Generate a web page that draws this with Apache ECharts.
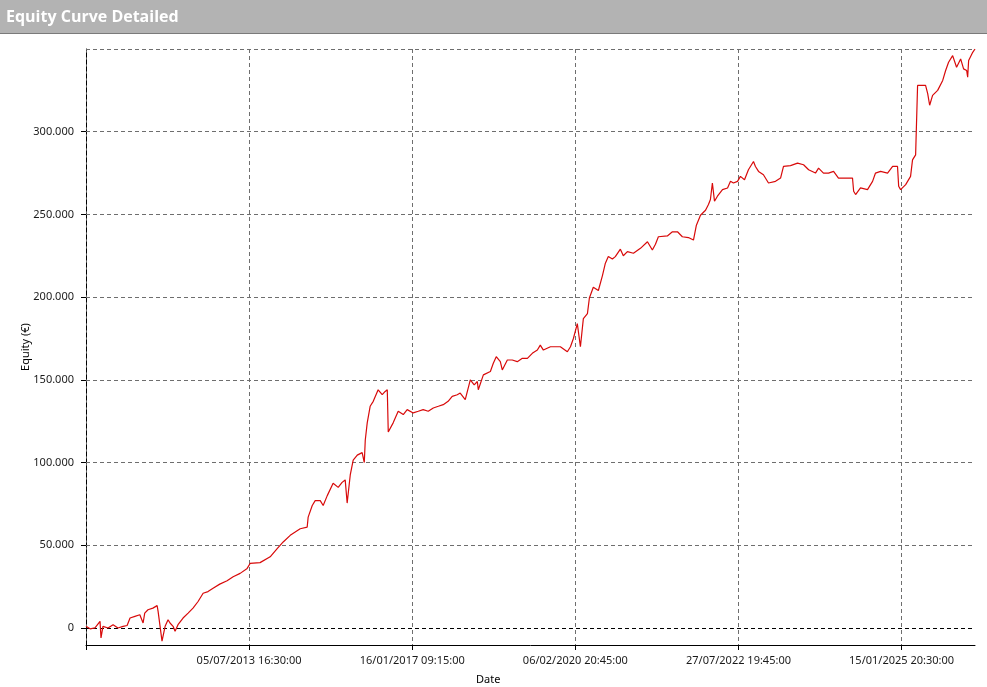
<!DOCTYPE html>
<html>
<head>
<meta charset="utf-8">
<script src="https://cdn.jsdelivr.net/npm/echarts@6/dist/echarts.min.js"></script>
<style>
html,body{margin:0;padding:0;background:#fff;}
#chart{width:987px;height:687px;}
</style>
</head>
<body>
<div id="chart"></div>
<script>
const chartTitle = 'Equity Curve Detailed';
const yAxisName = 'Equity (€)';
const xAxisName = 'Date';
const xTickValues = [100, 200, 300, 400, 500];
const xTickLabels = ['05/07/2013 16:30:00', '16/01/2017 09:15:00', '06/02/2020 20:45:00', '27/07/2022 19:45:00', '15/01/2025 20:30:00'];
const yTickValues = [0, 50000, 100000, 150000, 200000, 250000, 300000, 350000];

const tradeNo = [0,2.5,5.5,8.6,9.2,10.4,13.5,16.6,19.6,22.7,25.2,27,30,33,35,36,38,41,43.6,44.2,46.6,48.5,50.3,51.5,53.4,54.6,56.4,59.5,62.6,65.6,68.7,71.8,74.8,77.9,82,86.5,90.2,94.5,98.8,100.6,106.7,112.9,117.2,120.9,125.2,131.3,135.6,136.2,138.7,140.5,143.6,145.4,147.9,151.5,154.6,157,158.9,160.1,162,163.8,166.3,169.3,170.6,171.2,172.4,174.2,176.1,179.1,181.6,183.4,184.7,185.3,188.3,191.4,194.5,196.9,200.6,203.7,206.7,209.8,212.9,216,219,222,224.5,227.6,229.4,232.5,235.6,238,239.9,240.5,243.6,247.9,249.7,251.5,254,255.2,258.3,261.3,264.4,267.5,270.6,273.6,276.7,278.5,280.4,284.7,287.7,290.8,295.1,297,298.8,301.2,303.1,304.9,307.4,308.6,311,314.1,316.6,318.4,320.2,322.7,324.5,327.6,329.4,331.9,335.6,339.9,344.2,347.2,349.1,350.9,356.4,359.5,362.6,365.6,369.3,372.4,374.2,376.7,379.8,381.6,382.8,384,385.3,387.1,390.2,393.3,395.1,396.9,399.4,401.2,403.7,406.1,409.2,410.4,412.3,415.3,418.4,422.7,425.8,427.6,431.9,436.2,439.9,443,447.2,449.1,452.1,455.2,458.3,461.3,466.9,469.9,470.6,471.8,474.8,479.1,482.2,484,487.1,491.4,494.5,497.5,498.2,499.4,502.5,505.5,506.7,508.6,509.8,514.7,516,517.2,519,522.1,525.2,527,528.8,531.3,532.5,533.7,536.2,538,539.9,540.5,541.1,543.6,545];

const equity = [1000,-500,0,4000,-6000,1000,0,2000,0,1000,1500,6000,7000,8000,3000,9000,11000,12000,13500,10000,-8000,1000,5000,3000,1000,-2000,2000,6000,9000,12000,16000,21000,22000,24000,26500,28500,31000,33000,36000,39000,39500,43000,48000,52000,56000,60000,61000,67000,74000,77000,77000,74000,80000,87500,85000,88000,89500,75500,92500,101500,104500,106000,100000,113500,124000,134000,137000,144000,141000,143000,144000,118500,124000,131000,129000,132000,130000,131000,132000,131000,133000,134000,135000,137000,140000,141000,142000,138000,150000,147000,149000,144000,153000,155000,160000,164000,161000,156000,162000,162000,161000,163000,163000,166000,168000,171000,168000,170000,170000,170000,167000,170000,175000,184000,170000,187000,190000,199500,206000,204000,213000,220500,224500,223000,224500,229000,225000,227500,226500,229500,233500,228500,232000,236500,237000,239500,239500,236500,236000,234500,243500,249500,252500,256000,259000,269000,258000,261000,265000,266000,270000,269000,270000,273000,271000,277000,282000,279000,276000,274000,269000,270000,272000,279000,279500,281000,280000,277000,275000,278000,275000,275000,276000,272000,272000,272000,264000,262000,266000,265000,270000,275000,276000,275000,279000,279000,267000,265000,268000,273000,283000,286000,328000,328000,323000,316000,322000,325000,331000,337000,342000,346000,346000,339000,344000,338000,337000,333000,343000,348000,350000];

const seriesData = tradeNo.map((t, i) => [t, equity[i]]);

const FONT = 'Noto Sans';
const chart = echarts.init(document.getElementById('chart'), null, {renderer: 'canvas'});

function fmtThousands(v) {
  return String(Math.round(v)).replace(/\B(?=(\d{3})+(?!\d))/g, '.');
}

chart.setOption({
  animation: false,
  backgroundColor: '#ffffff',
  textStyle: {fontFamily: FONT},
  graphic: [
    {type: 'rect', left: 0, top: 0, shape: {width: 987, height: 33}, style: {fill: '#b3b3b3'}, z: 10},
    {type: 'rect', left: 0, top: 33, shape: {width: 987, height: 1}, style: {fill: '#7a7a7a'}, z: 10},
    {type: 'text', left: 6, top: 9, style: {text: chartTitle, fill: '#ffffff', font: 'bold 16px "Open Sans", "Noto Sans", sans-serif'}, z: 11},
    {type: 'text', left: 476, top: 674, style: {text: xAxisName, fill: '#000000', font: '11px "Noto Sans", sans-serif'}, z: 11}
  ],
  grid: {left: 86, right: 12, top: 49, bottom: 42, containLabel: false},
  xAxis: {
    type: 'value',
    min: 0,
    max: 545,
    axisLine: {show: true, onZero: false, lineStyle: {color: '#000000', width: 1}},
    axisTick: {show: true, length: 5, customValues: [0].concat(xTickValues), lineStyle: {color: '#000000'}},
    axisLabel: {
      customValues: xTickValues,
      color: '#1a1a1a',
      fontSize: 11,
      fontFamily: FONT,
      margin: 10,
      formatter: function (v) {
        const k = xTickValues.indexOf(Math.round(v));
        return k >= 0 ? xTickLabels[k] : '';
      }
    },
    splitLine: {show: true, lineStyle: {color: '#6e6e6e', type: [4, 3], width: 1}}
  },
  yAxis: {
    type: 'value',
    min: -10300,
    max: 350000,
    name: yAxisName,
    nameLocation: 'middle',
    nameGap: 55,
    nameMoveOverlap: false,
    nameTextStyle: {color: '#000000', fontSize: 11, fontFamily: FONT},
    axisLine: {show: true, onZero: false, lineStyle: {color: '#000000', type: [4, 3], width: 1}},
    axisTick: {show: true, length: 5, customValues: yTickValues.slice(0, 7), lineStyle: {color: '#000000'}},
    axisLabel: {
      customValues: yTickValues.slice(0, 7),
      color: '#1a1a1a',
      fontSize: 11,
      fontFamily: FONT,
      margin: 12,
      formatter: function (v) { return fmtThousands(v); }
    },
    splitLine: {show: false}
  },
  series: [{
    type: 'line',
    data: seriesData,
    showSymbol: false,
    symbol: 'none',
    lineStyle: {color: '#d80a0a', width: 1.2},
    itemStyle: {color: '#d80a0a'},
    z: 5,
    markLine: {
      silent: true,
      symbol: ['none', 'none'],
      label: {show: false},
      animation: false,
      z: 1,
      data: yTickValues.map(v => ({
        yAxis: v,
        lineStyle: {color: v === 0 ? '#000000' : '#6e6e6e', type: [4, 3], width: 1}
      }))
    }
  }]
});
</script>
</body>
</html>
